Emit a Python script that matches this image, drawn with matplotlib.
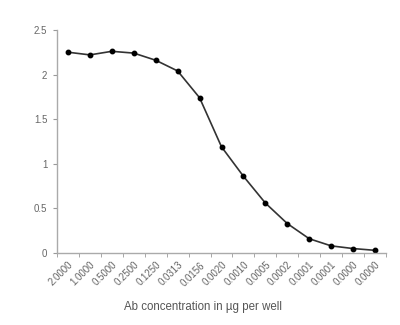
import numpy as np
import matplotlib.pyplot as plt

plt.rcParams['font.family'] = ['Liberation Sans', 'DejaVu Sans']

# dilution series (labels as printed on the axis)
conc_labels = ['2.0000', '1.0000', '0.5000', '0.2500', '0.1250', '0.0313', '0.0156',
               '0.0020', '0.0010', '0.0005', '0.0002', '0.0001', '0.0001', '0.0000', '0.0000']
# signal
signal = [2.25, 2.22, 2.26, 2.24, 2.16, 2.04, 1.74, 1.19, 0.86, 0.56, 0.33, 0.16, 0.08, 0.05, 0.03]

x = np.arange(len(signal))

fig = plt.figure(figsize=(4, 3.25), dpi=100)
ax = fig.add_axes([0.1425, 0.2215, 0.8225, 0.6865])

ax.plot(x, signal, color='#333333', lw=1.2, marker='o', ms=3.2,
        mfc='black', mec='black')

ax.set_xlim(-0.5, len(signal) - 0.5)
ax.set_ylim(0, 2.5)
ax.set_yticks([0, 0.5, 1, 1.5, 2, 2.5])
ax.set_yticklabels(['0', '0.5', '1', '1.5', '2', '2.5'])

ax.set_xticks(x)
ax.set_xticklabels(conc_labels, rotation=45, ha='right', rotation_mode='anchor')
ax.set_xticks(np.arange(-0.5, len(signal)), minor=True)
ax.tick_params(axis='x', which='major', length=0, labelsize=7, colors='#666666', pad=5)
ax.tick_params(axis='x', which='minor', length=3, color='#999999')
ax.tick_params(axis='y', length=3, color='#999999', labelsize=7, colors='#666666', pad=4)
ax.tick_params(axis='y', color='#999999')

for s in ['top', 'right']:
    ax.spines[s].set_visible(False)
for s in ['left', 'bottom']:
    ax.spines[s].set_color('#aaaaaa')
    ax.spines[s].set_linewidth(1.0)

fig.text(0.5075, 0.055, 'Ab concentration in µg per well', ha='center', va='center',
         fontsize=8.3, color='#555555')

fig.savefig('out.png', dpi=100)
